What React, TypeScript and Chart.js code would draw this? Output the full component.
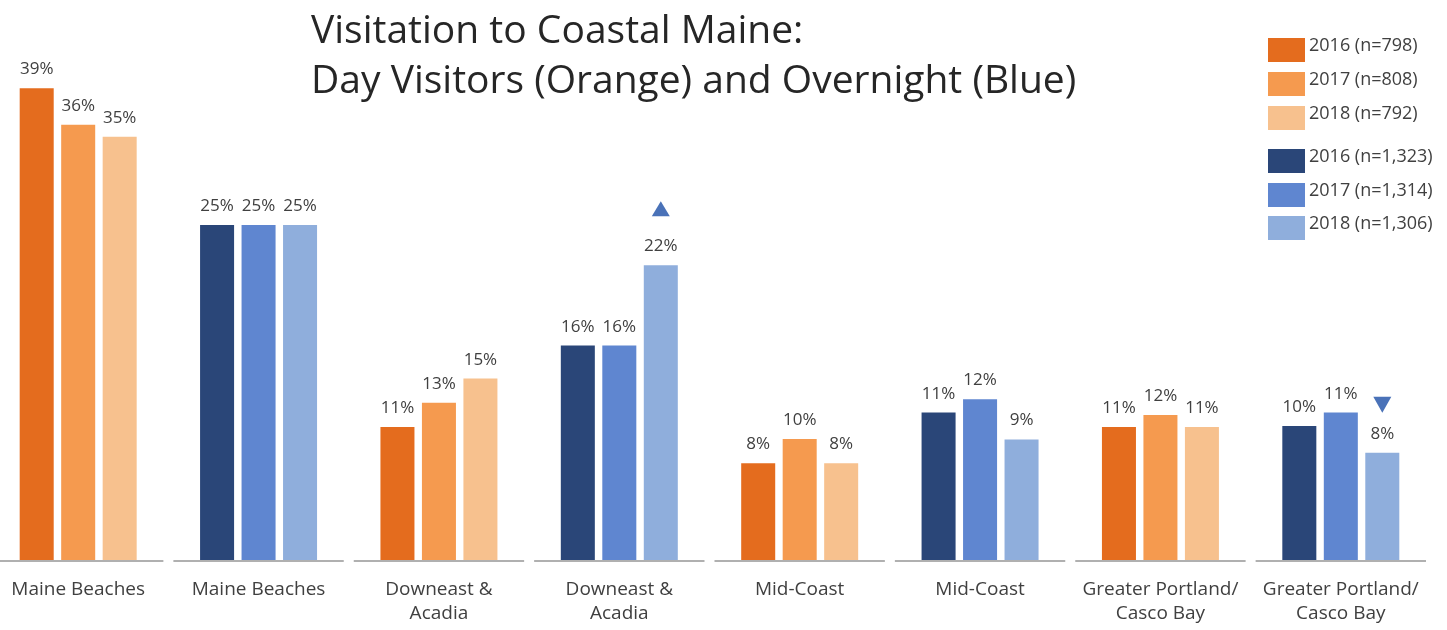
import React, { useEffect, useRef } from "react";
import { Chart, registerables } from "chart.js";

Chart.register(...registerables);

// ---- Data ----
const categories: string[][] = [
  ["Maine Beaches"],
  ["Maine Beaches"],
  ["Downeast &", "Acadia"],
  ["Downeast &", "Acadia"],
  ["Mid-Coast"],
  ["Mid-Coast"],
  ["Greater Portland/", "Casco Bay"],
  ["Greater Portland/", "Casco Bay"],
];

// Day visitors (orange) – null where the category belongs to overnight
const day2016 = [39, null, 11, null, 8, null, 11, null];
const day2017 = [36, null, 13, null, 10, null, 12, null];
const day2018 = [35, null, 15, null, 8, null, 11, null];

// Overnight visitors (blue)
const night2016 = [null, 25, null, 16, null, 11, null, 10];
const night2017 = [null, 25, null, 16, null, 12, null, 11];
const night2018 = [null, 25, null, 22, null, 9, null, 8];

// significant change markers for overnight 2018
const night2018Change = [null, null, null, "up", null, null, null, "down"];

const dayLegend = ["2016 (n=798)", "2017 (n=808)", "2018 (n=792)"];
const nightLegend = ["2016 (n=1,323)", "2017 (n=1,314)", "2018 (n=1,306)"];

const dayColors = ["#E46C1E", "#F59A4F", "#F7C18E"];
const nightColors = ["#2A4678", "#5F86D0", "#8FAEDC"];

const titleLines = ["Visitation to Coastal Maine:", "Day Visitors (Orange) and Overnight (Blue)"];

const FONT = "'Open Sans', 'DejaVu Sans', sans-serif";

const labelPlugin = {
  id: "valueLabels",
  afterDatasetsDraw(chart: any) {
    const ctx = chart.ctx;
    ctx.save();
    ctx.font = `17px ${FONT}`;
    ctx.textAlign = "center";
    ctx.textBaseline = "alphabetic";
    chart.data.datasets.forEach((ds: any, di: number) => {
      const meta = chart.getDatasetMeta(di);
      ds.data.forEach((v: any, i: number) => {
        if (v == null) return;
        const el = meta.data[i];
        if (!el) return;
        ctx.fillStyle = "#404040";
        ctx.fillText(`${v}%`, el.x, el.y - 14);
        const marks = ds.changeMarks;
        if (marks && marks[i]) {
          ctx.fillStyle = "#4A72B8";
          ctx.beginPath();
          if (marks[i] === "up") {
            ctx.moveTo(el.x, el.y - 64);
            ctx.lineTo(el.x - 9, el.y - 49);
            ctx.lineTo(el.x + 9, el.y - 49);
          } else {
            ctx.moveTo(el.x - 9, el.y - 56);
            ctx.lineTo(el.x + 9, el.y - 56);
            ctx.lineTo(el.x, el.y - 40);
          }
          ctx.closePath();
          ctx.fill();
        }
      });
    });
    ctx.restore();
  },
};

const baselinePlugin = {
  id: "groupBaselines",
  beforeDatasetsDraw(chart: any) {
    const ctx = chart.ctx;
    const x = chart.scales.x;
    const area = chart.chartArea;
    const w = (area.right - area.left) / categories.length;
    ctx.save();
    ctx.strokeStyle = "#B0B0B0";
    ctx.lineWidth = 2;
    categories.forEach((_, i) => {
      const cx = x.getPixelForValue(i);
      ctx.beginPath();
      ctx.moveTo(cx - w / 2 + 5, area.bottom + 1);
      ctx.lineTo(cx + w / 2 - 5, area.bottom + 1);
      ctx.stroke();
    });
    ctx.restore();
  },
};

export default function App() {
  const canvasRef = useRef<HTMLCanvasElement | null>(null);

  useEffect(() => {
    if (!canvasRef.current) return;
    const mk = (label: string, data: any[], color: string, axis: string, extra: any = {}) => ({
      label,
      data,
      backgroundColor: color,
      yAxisID: axis,
      skipNull: true,
      categoryPercentage: 0.69,
      barPercentage: 0.82,
      ...extra,
    });
    const chart = new Chart(canvasRef.current, {
      type: "bar",
      data: {
        labels: categories,
        datasets: [
          mk(dayLegend[0], day2016, dayColors[0], "yDay"),
          mk(dayLegend[1], day2017, dayColors[1], "yDay"),
          mk(dayLegend[2], day2018, dayColors[2], "yDay"),
          mk(nightLegend[0], night2016, nightColors[0], "yNight"),
          mk(nightLegend[1], night2017, nightColors[1], "yNight"),
          mk(nightLegend[2], night2018, nightColors[2], "yNight", { changeMarks: night2018Change }),
        ] as any,
      },
      options: {
        animation: false,
        responsive: false,
        layout: { padding: { top: 40, left: 0, right: 16, bottom: 0 } },
        plugins: {
          legend: { display: false },
          tooltip: { enabled: false },
          title: { display: false },
        },
        scales: {
          x: {
            grid: { display: false, drawTicks: false },
            border: { display: false },
            ticks: {
              color: "#404040",
              font: { family: FONT, size: 19, lineHeight: 1.25 },
              padding: 18,
              maxRotation: 0,
              autoSkip: false,
            },
            afterFit: (scale: any) => {
              scale.height = 70;
            },
          },
          yDay: {
            display: false,
            min: 0,
            max: 43,
          },
          yNight: {
            display: false,
            min: 0,
            max: 38.8,
          },
        },
      } as any,
      plugins: [baselinePlugin, labelPlugin],
    });
    return () => chart.destroy();
  }, []);

  const legendRows = [
    ...dayLegend.map((t, i) => ({ t, c: dayColors[i], top: 38 + i * 34 })),
    ...nightLegend.map((t, i) => ({ t, c: nightColors[i], top: 149 + i * 33.5 })),
  ];

  return (
    <div style={{ position: "absolute", left: 0, top: 0, width: 1447, height: 630, overflow: "hidden", background: "#fff" }}>
      <div style={{ position: "absolute", left: -12, top: 0, width: 1459, height: 630 }}>
        <canvas ref={canvasRef} width={1459} height={630} style={{ width: 1459, height: 630, display: "block" }} />
      </div>
      <div
        style={{
          position: "absolute",
          left: 311,
          top: 3,
          fontFamily: FONT,
          fontSize: 39,
          lineHeight: "50px",
          color: "#262626",
          whiteSpace: "nowrap",
        }}
      >
        {titleLines.map((l, i) => (
          <div key={i}>{l}</div>
        ))}
      </div>
      {legendRows.map((r, i) => (
        <React.Fragment key={i}>
          <div style={{ position: "absolute", left: 1268, top: r.top, width: 37, height: 24, background: r.c }} />
          <div
            style={{
              position: "absolute",
              left: 1309,
              top: r.top - 3,
              fontFamily: FONT,
              fontSize: 18,
              lineHeight: "19px",
              color: "#404040",
              whiteSpace: "nowrap",
            }}
          >
            {r.t}
          </div>
        </React.Fragment>
      ))}
    </div>
  );
}
